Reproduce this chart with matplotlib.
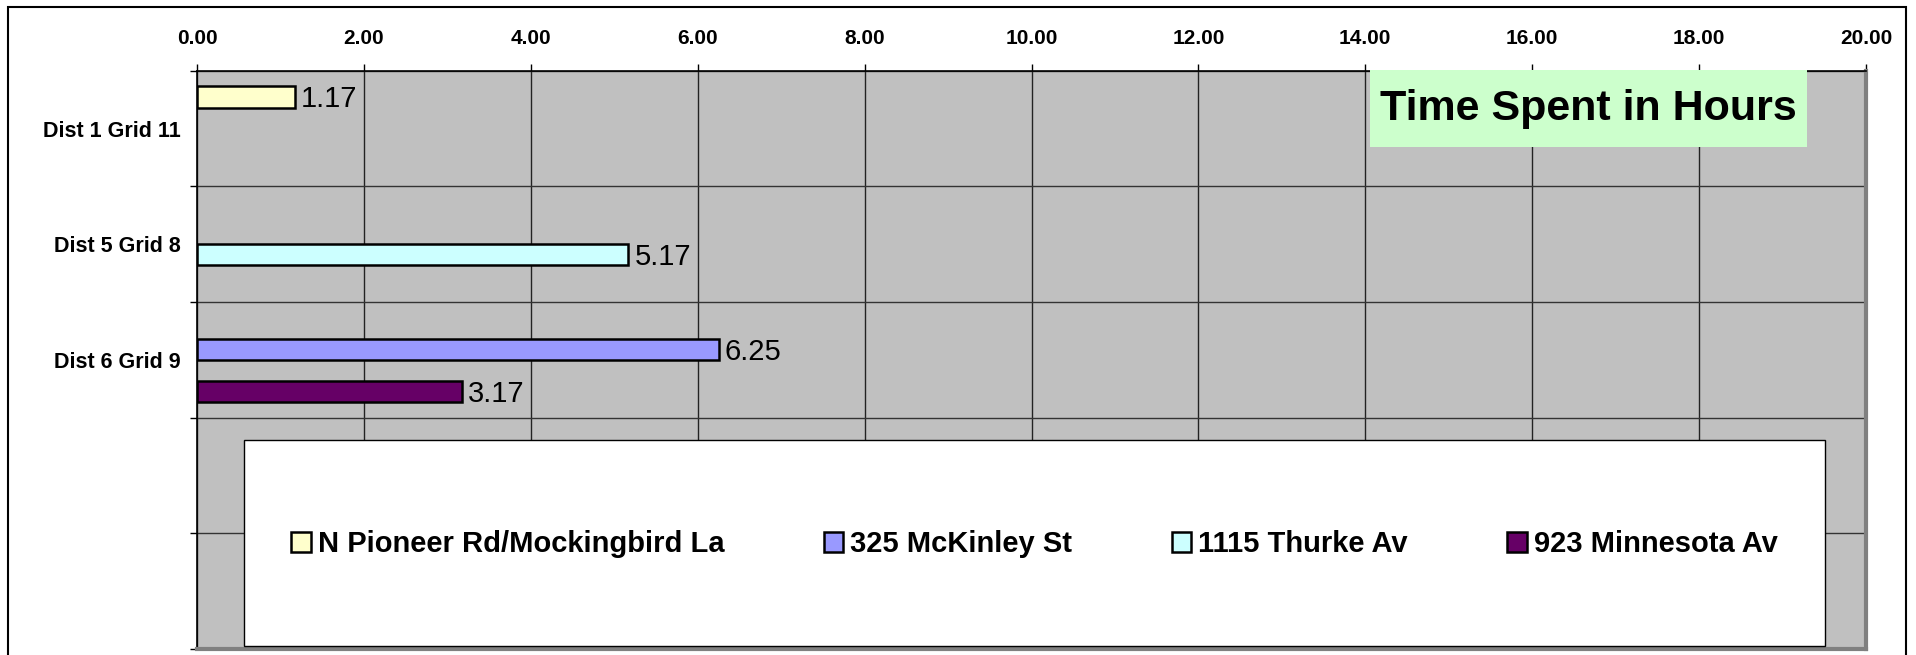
import numpy as np
import matplotlib.pyplot as plt
from matplotlib.patches import Rectangle, Patch

plt.rcParams['font.family'] = ['Liberation Sans', 'DejaVu Sans']

categories = ["Dist 1 Grid 11", "Dist 5 Grid 8", "Dist 6 Grid 9", "", ""]
series_names = ["N Pioneer Rd/Mockingbird La", "325 McKinley St",
                "1115 Thurke Av", "923 Minnesota Av"]
pioneer = [1.17, np.nan, np.nan, np.nan, np.nan]
mckinley = [np.nan, np.nan, 6.25, np.nan, np.nan]
thurke = [np.nan, 5.17, np.nan, np.nan, np.nan]
minnesota = [np.nan, np.nan, 3.17, np.nan, np.nan]
series_values = [pioneer, mckinley, thurke, minnesota]
colors = ["#FFFFCC", "#9999FF", "#CCFFFF", "#660066"]
x_ticks = np.arange(0, 21, 2)

W, H = 1916, 655
fig = plt.figure(figsize=(W / 100, H / 100), dpi=100)

# outer chart border (bottom runs off the picture)
fig.patches.append(Rectangle((7.7 / W, -0.05), (1906 - 7.7) / W, 1.05 - 7 / H,
                             transform=fig.transFigure, fill=False,
                             edgecolor="black", linewidth=1.5))

ax_l, ax_r, ax_t, ax_b = 197, 1866, 70.7, 649
ax = fig.add_axes([ax_l / W, 1 - ax_b / H, (ax_r - ax_l) / W, (ax_b - ax_t) / H])
ax.set_facecolor("#C0C0C0")
ax.set_axisbelow(True)

bar_h = 1 / 5.5
ypos = np.arange(len(categories))
for k, (name, vals, col) in enumerate(zip(series_names, series_values, colors)):
    vals = np.array(vals, dtype=float)
    mask = ~np.isnan(vals)
    y = ypos[mask] + (k - 1.5) * bar_h
    ax.barh(y, vals[mask], height=bar_h, color=col, edgecolor="black",
            linewidth=1.8, zorder=3)
    for yy, v in zip(y, vals[mask]):
        ax.annotate(f"{v:.2f}", (v, yy), xytext=(4.5, -7.5), textcoords="offset points",
                    va="baseline", ha="left", fontsize=21, zorder=4)

ax.set_xlim(0, 20)
ax.set_ylim(len(categories) - 0.5, -0.5)
ax.xaxis.tick_top()
ax.set_xticks(x_ticks)
ax.set_xticklabels([f"{t:.2f}" for t in x_ticks], fontsize=15, fontweight="bold")
ax.tick_params(axis="x", length=5, width=1, pad=11, color="black")

ax.set_yticks(np.arange(len(categories) + 1) - 0.5)
ax.set_yticklabels([])
ax.set_yticks(ypos, minor=True)
ax.set_yticklabels(categories, minor=True, fontsize=15.5, fontweight="bold")
ax.tick_params(axis="y", which="major", length=5, width=1, color="black")
ax.tick_params(axis="y", which="minor", length=0, pad=12)

ax.grid(axis="x", color="#222222", linewidth=1)
ax.grid(axis="y", which="major", color="#333333", linewidth=1)

for side in ["right", "bottom"]:
    ax.spines[side].set_color("#808080")
    ax.spines[side].set_linewidth(3)
for side in ["top", "left"]:
    ax.spines[side].set_color("black")
    ax.spines[side].set_linewidth(1.2)

# title box
fig.patches.append(Rectangle((1370 / W, 1 - 147 / H), (1807 - 1370) / W, 77 / H,
                             transform=fig.transFigure, facecolor="#CCFFCC",
                             edgecolor="none", zorder=5))
fig.text(1588 / W, 1 - 120 / H, "Time Spent in Hours", ha="center", va="baseline",
         fontsize=31, fontweight="bold", zorder=6)

# legend box
lx0, lx1, ly0, ly1 = 244, 1825, 440, 646
fig.patches.append(Rectangle((lx0 / W, 1 - ly1 / H), (lx1 - lx0) / W, (ly1 - ly0) / H,
                             transform=fig.transFigure, facecolor="white",
                             edgecolor="black", linewidth=1, zorder=5))
handles = [Patch(facecolor=c, edgecolor="black", linewidth=1.8) for c in colors]
leg = fig.legend(handles, series_names, loc="center",
                 bbox_to_anchor=((lx0 + lx1) / 2 / W, 1 - 544 / H), ncol=4,
                 frameon=False, prop={"size": 21, "weight": "bold"},
                 handlelength=0.68, handleheight=0.68, handletextpad=0.24,
                 columnspacing=3.4)
leg.set_zorder(6)

fig.savefig("out.png", dpi=100)
